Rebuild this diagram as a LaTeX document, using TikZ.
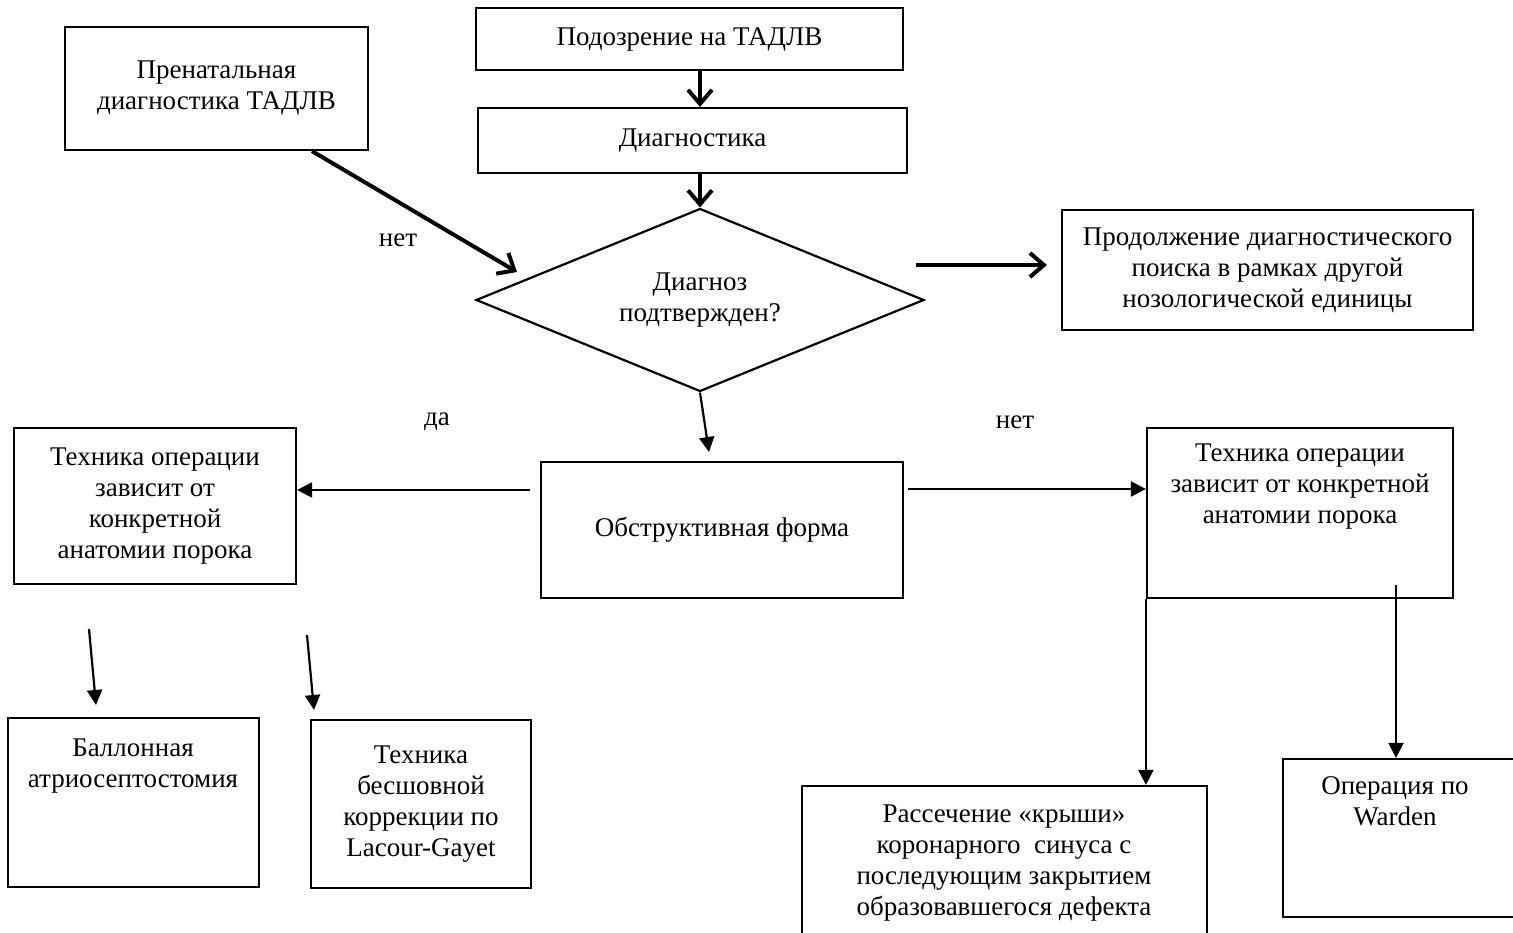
\documentclass[tikz,border=0pt]{standalone}
\usepackage{fontspec}
\setmainfont{Liberation Serif}
\usetikzlibrary{arrows.meta,shapes.geometric}
\begin{document}
\begin{tikzpicture}[x=1pt,y=-1pt,
  box/.style={draw, line width=2.2pt, inner sep=0pt},
  txt/.style={font=\fontsize{27}{31}\selectfont, align=center, inner sep=0pt},
  thk/.style={line width=4pt, -{Straight Barb[length=14pt,width=24pt]}},
  thn/.style={line width=2.2pt, -{Triangle[length=15pt,width=15pt]}}]
\useasboundingbox (0,0) rectangle (1513,933);
% boxes
\node[box, txt, minimum width=303pt, minimum height=123pt] (pren) at (216.5,88.5) {Пренатальная\\диагностика ТАДЛВ};
\node[box, txt, minimum width=427pt, minimum height=62pt] (susp) at (689.5,39) {Подозрение на ТАДЛВ};
\node[box, txt, minimum width=429pt, minimum height=65pt] (diag) at (692.5,140.5) {Диагностика};
\node[diamond, draw, line width=2.2pt, txt, shape aspect=2.6, minimum width=448pt, minimum height=183pt] (dia) at (700,300) {Диагноз\\подтвержден?};
\node[box, txt, minimum width=411pt, minimum height=120pt] (cont) at (1267.5,270) {Продолжение диагностического\\поиска в рамках другой\\нозологической единицы};
\node[box, txt, minimum width=362pt, minimum height=136pt] (obs) at (722,530) {Обструктивная форма};
\node[box, txt, minimum width=282pt, minimum height=156pt] (ltech) at (155,506) {Техника операции\\зависит от\\конкретной\\анатомии порока};
\node[box, minimum width=306pt, minimum height=170pt] (rtech) at (1300,513) {};
\node[txt] (rtecht) at (1300,487) {Техника операции\\зависит от конкретной\\анатомии порока};
\node[box, minimum width=405pt, minimum height=180pt] (ras) at (1004.5,876) {};
\node[txt] (rast) at (1004,863) {Рассечение «крыши»\\коронарного\ \ синуса с\\последующим закрытием\\образовавшегося дефекта};
\node[box, minimum width=240pt, minimum height=158pt] (ward) at (1403,838) {};
\node[txt] (wardt) at (1395,801) {Операция по\\Warden};
\node[box, minimum width=251pt, minimum height=169pt] (ball) at (133.5,802.5) {};
\node[txt] (ballt) at (133,766) {Баллонная\\атриосептостомия};
\node[box, txt, minimum width=220pt, minimum height=168pt] (bes) at (421,804) {Техника\\бесшовной\\коррекции по\\Lacour-Gayet};
% labels
\node[txt] (no1) at (398,240) {нет};
\node[txt] (yes) at (437,422) {да};
\node[txt] (no2) at (1015,422) {нет};
% connectors
\draw[thk] (susp.south -| dia.north) -- (diag.north -| dia.north);
\draw[thk] (diag.south -| dia.north) -- (dia.north);
\coordinate (p2) at (517,272);
\draw[thk] ([xshift=95.5pt]pren.south) -- (p2);
\coordinate (c1) at (916,265);
\coordinate (c2) at (1047,265);
\draw[thk] (c1) -- (c2);
\coordinate (d1) at (709,452);
\draw[thn] (dia.south) -- (d1);
\coordinate (l1) at (530,490);
\draw[thn] (l1) -- (ltech.east |- l1);
\coordinate (r1) at (908,489);
\draw[thn] (r1) -- (rtech.west |- r1);
\draw[thn] (rtech.south west) -- (rtech.south west |- ras.north);
\coordinate (w1) at (1396,585);
\draw[thn] (w1) -- (w1 |- ward.north);
\coordinate (b1) at (89,629);
\coordinate (b2) at (96,705);
\draw[thn] (b1) -- (b2);
\coordinate (b3) at (307,635);
\coordinate (b4) at (314,710);
\draw[thn] (b3) -- (b4);
\end{tikzpicture}
\end{document}
